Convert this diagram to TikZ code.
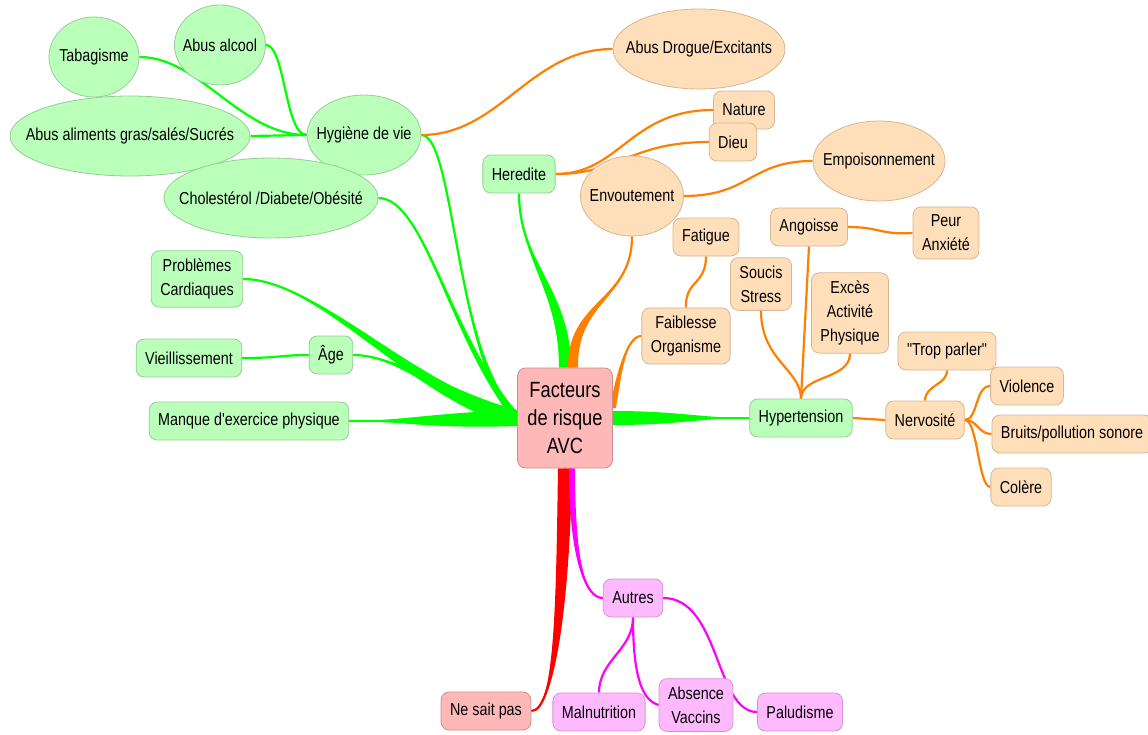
\documentclass[tikz,border=0pt]{standalone}
\usepackage{fontspec}
\newfontfamily\carte{Liberation Sans}[FakeStretch=0.83]
\usetikzlibrary{shapes.geometric,calc,backgrounds}

\definecolor{vertfond}{RGB}{186,255,186}
\definecolor{vertbord}{RGB}{150,205,150}
\definecolor{vertlien}{RGB}{0,255,0}
\definecolor{orfond}{RGB}{255,222,186}
\definecolor{orbord}{RGB}{215,182,145}
\definecolor{orlien}{RGB}{255,128,0}
\definecolor{rosefond}{RGB}{255,186,255}
\definecolor{rosebord}{RGB}{210,150,210}
\definecolor{roselien}{RGB}{255,0,255}
\definecolor{rougefond}{RGB}{255,184,184}
\definecolor{rougebord}{RGB}{210,140,140}
\definecolor{rougelien}{RGB}{255,0,0}

\tikzset{
  boite/.style={rectangle, rounded corners=8pt, draw, line width=0.8pt, align=center,
    inner xsep=9pt, inner ysep=8pt, minimum height=38pt},
  vbox/.style={boite, fill=vertfond, draw=vertbord},
  obox/.style={boite, fill=orfond, draw=orbord},
  mbox/.style={boite, fill=rosefond, draw=rosebord},
  rbox/.style={boite, fill=rougefond, draw=rougebord},
  oval/.style={ellipse, draw, line width=0.8pt, inner sep=0pt, minimum height=80pt},
  voval/.style={oval, fill=vertfond, draw=vertbord},
  ooval/.style={oval, fill=orfond, draw=orbord},
  lien/.style={line width=2.2pt},
}

% branche epaisse : couleur, depart, arrivee, controle 1, controle 2, demi-largeur
\newcommand\branche[6]{%
  \fill[#1] ($#2+#6$) .. controls ($#4+#6$) and #5 .. #3 .. controls #5 and ($#4-#6$) .. ($#2-#6$) -- cycle;
  \draw[#1, lien] #2 .. controls #4 and #5 .. #3;}

\begin{document}
\begin{tikzpicture}[x=1pt, y=-1pt, font=\carte\fontsize{17.3}{24}\selectfont]
\useasboundingbox (0,0) rectangle (1148,734);

% centre
\node[rbox, minimum width=95pt, minimum height=100pt, font=\carte\fontsize{22}{28}\selectfont] (centre) at (565,418) {Facteurs\\de risque\\AVC};

% hygiene de vie
\node[voval, minimum width=90pt, label=center:Tabagisme] (tabac) at (94,57) {};
\node[voval, minimum width=91pt, label=center:{Abus alcool}] (alcool) at (220,45) {};
\node[voval, minimum width=240pt, label=center:{Abus aliments gras/salés/Sucrés}] (aliments) at (130,136) {};
\node[voval, minimum width=114pt, label=center:{Hygiène de vie}] (hygiene) at (364,135) {};
\node[voval, minimum width=214pt, label=center:{Cholestérol /Diabete/Obésité}] (chol) at (271,198) {};
\node[ooval, minimum width=172pt, label=center:{Abus Drogue/Excitants}] (drogue) at (699,49) {};

% heredite
\node[vbox] (heredite) at (519,174) {Heredite};
\node[obox] (nature) at (744,110) {Nature};
\node[obox] (dieu) at (733,142) {Dieu};
\node[ooval, minimum width=103pt, label=center:Envoutement] (envout) at (632,196) {};
\node[ooval, minimum width=132pt, label=center:Empoisonnement] (poison) at (879,161) {};

% gauche
\node[vbox] (cardio) at (197,279) {Problèmes\\Cardiaques};
\node[vbox] (vieil) at (189,358) {Vieillissement};
\node[vbox] (age) at (331,355) {Âge};
\node[vbox] (exercice) at (249,421) {Manque d'exercice physique};

% hypertension
\node[obox] (fatigue) at (706,237) {Fatigue};
\node[obox] (soucis) at (761,284) {Soucis\\Stress};
\node[obox] (angoisse) at (809,227) {Angoisse};
\node[obox] (peur) at (946,233) {Peur\\Anxiété};
\node[obox] (exces) at (850,313) {Excès\\Activité\\Physique};
\node[obox] (faiblesse) at (686,336) {Faiblesse\\Organisme};
\node[vbox] (hyper) at (801,418) {Hypertension};
\node[obox] (parler) at (947,351) {"Trop parler"};
\node[obox] (nerv) at (925,420) {Nervosité};
\node[obox] (violence) at (1027,386) {Violence};
\node[obox] (bruits) at (1072,434) {Bruits/pollution sonore};
\node[obox] (colere) at (1021,487) {Colère};

% bas
\node[mbox] (autres) at (633,598) {Autres};
\node[mbox] (malnut) at (599,712) {Malnutrition};
\node[mbox] (vaccins) at (696,705) {Absence\\Vaccins};
\node[mbox] (palu) at (800,712) {Paludisme};
\node[rbox] (nesaitpas) at (486,711) {Ne sait pas};

\coordinate (haut) at ($(centre.north)+(8,0)$);
\coordinate (droite) at ($(centre.east)+(0,-10)$);
\coordinate (bas) at ($(centre.south)+(7,0)$);

\begin{scope}[on background layer]
\fill[white] (0,0) rectangle (1148,734);
% branches principales
\branche{vertlien}{(centre.west)}{(hygiene.east)}{(455,360)}{(455,135)}{(0,6)}
\branche{vertlien}{(centre.west)}{(chol.east)}{(450,340)}{(425,198)}{(0,6)}
\branche{vertlien}{(centre.west)}{(cardio.east)}{(420,400)}{(320,279)}{(0,8)}
\branche{vertlien}{(centre.west)}{(age.east)}{(450,400)}{(400,355)}{(0,8)}
\branche{vertlien}{(centre.west)}{(exercice.east)}{(430,421)}{(400,421)}{(0,8)}
\branche{vertlien}{(centre.north)}{(heredite.south)}{(565,290)}{(519,260)}{(6,0)}
\branche{vertlien}{(centre.east)}{(hyper.west)}{(680,418)}{(700,418)}{(0,7)}
\branche{orlien}{(haut)}{(envout.south)}{(572,300)}{(632,300)}{(5,0)}
\branche{orlien}{(droite)}{(faiblesse.west)}{(618,380)}{(625,336)}{(3,0)}
\branche{rougelien}{(centre.south)}{(nesaitpas.east)}{(563,600)}{(555,711)}{(7,0)}
\branche{roselien}{(bas)}{(autres.west)}{(572,560)}{(585,598)}{(3,0)}
% liens secondaires
\draw[lien, vertlien] (hygiene.west) .. controls (240,135) and (200,57) .. (tabac.east);
\draw[lien, vertlien] (hygiene.west) .. controls (285,135) and (285,45) .. (alcool.east);
\draw[lien, vertlien] (hygiene.west) -- (aliments.east);
\draw[lien, vertlien] (vieil.east) .. controls (280,358) and (280,355) .. (age.west);
\draw[lien, orlien] (hygiene.east) .. controls (500,135) and (530,49) .. (drogue.west);
\draw[lien, orlien] (heredite.east) .. controls (620,174) and (630,110) .. (nature.west);
\draw[lien, orlien] (heredite.east) .. controls (620,174) and (630,142) .. (dieu.west);
\draw[lien, orlien] (envout.east) .. controls (750,196) and (750,161) .. (poison.west);
\draw[lien, orlien] (fatigue.south) .. controls (706,285) and (685,280) .. (faiblesse.north);
\draw[lien, orlien] (hyper.north) .. controls (801,370) and (761,360) .. (soucis.south);
\draw[lien, orlien] (hyper.north) -- (angoisse.south);
\draw[lien, orlien] (hyper.north) .. controls (801,375) and (850,380) .. (exces.south);
\draw[lien, orlien] (angoisse.east) .. controls (880,227) and (880,235) .. (peur.west);
\draw[lien, orlien] (hyper.east) -- (nerv.west);
\draw[lien, orlien] (nerv.north) .. controls (925,385) and (947,385) .. (parler.south);
\draw[lien, orlien] (nerv.east) .. controls (978,420) and (975,386) .. (violence.west);
\draw[lien, orlien] (nerv.east) .. controls (978,420) and (978,434) .. (bruits.west);
\draw[lien, orlien] (nerv.east) .. controls (978,420) and (978,487) .. (colere.west);
\draw[lien, roselien] (autres.east) .. controls (720,598) and (715,712) .. (palu.west);
\draw[lien, roselien] (autres.south) .. controls (633,650) and (599,660) .. (malnut.north);
\draw[lien, roselien] (autres.south) .. controls (633,670) and (640,700) .. (vaccins.west);
\end{scope}
\end{tikzpicture}
\end{document}
